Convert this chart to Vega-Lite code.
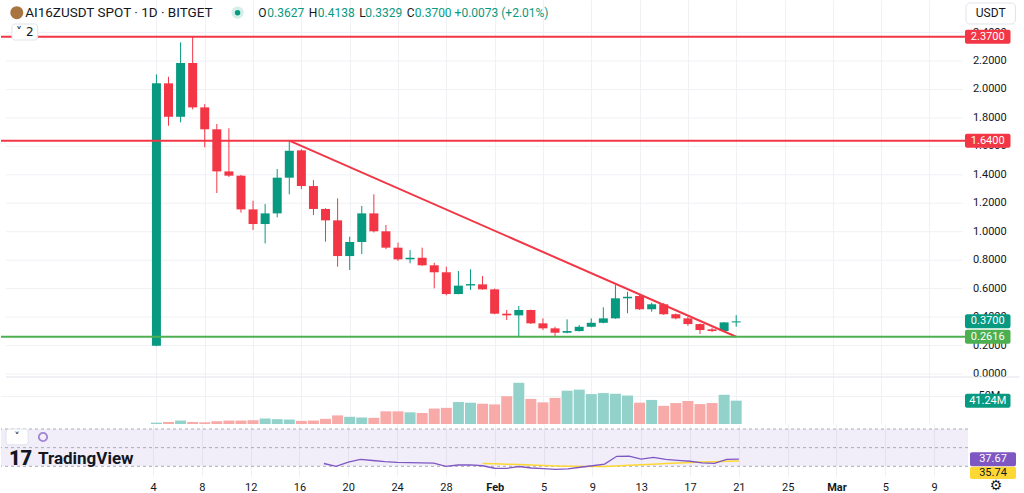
{
  "$schema": "https://vega.github.io/schema/vega-lite/v6.json",
  "padding": 0,
  "background": "#ffffff",
  "spacing": 0,
  "bounds": "flush",
  "config": {
    "view": {"stroke": null},
    "font": "Roboto",
    "axis": {"gridColor": "#eff1f5", "labelFont": "Roboto", "labelColor": "#131722", "labelFontSize": 11, "title": null, "labelOverlap": false, "labelFlush": false}
  },
  "resolve": {"scale": {"x": "independent", "y": "independent"}},
  "datasets": {
    "ohlc": [
      {"date":"2025-01-04","open":0.198,"high":2.106,"low":0.195,"close":2.043,"volume":2400000},
      {"date":"2025-01-05","open":2.043,"high":2.089,"low":1.745,"close":1.808,"volume":3600000},
      {"date":"2025-01-06","open":1.808,"high":2.331,"low":1.769,"close":2.186,"volume":6100000},
      {"date":"2025-01-07","open":2.186,"high":2.37,"low":1.86,"close":1.874,"volume":3600000},
      {"date":"2025-01-08","open":1.874,"high":1.897,"low":1.593,"close":1.72,"volume":3000000},
      {"date":"2025-01-09","open":1.72,"high":1.757,"low":1.272,"close":1.424,"volume":4900000},
      {"date":"2025-01-10","open":1.424,"high":1.727,"low":1.385,"close":1.394,"volume":6100000},
      {"date":"2025-01-11","open":1.394,"high":1.4,"low":1.134,"close":1.157,"volume":6100000},
      {"date":"2025-01-12","open":1.157,"high":1.218,"low":1.012,"close":1.054,"volume":6700000},
      {"date":"2025-01-13","open":1.054,"high":1.195,"low":0.918,"close":1.129,"volume":9700000},
      {"date":"2025-01-14","open":1.129,"high":1.441,"low":1.101,"close":1.38,"volume":8500000},
      {"date":"2025-01-15","open":1.38,"high":1.64,"low":1.263,"close":1.569,"volume":7900000},
      {"date":"2025-01-16","open":1.572,"high":1.58,"low":1.3,"close":1.321,"volume":5500000},
      {"date":"2025-01-17","open":1.321,"high":1.363,"low":1.117,"close":1.16,"volume":6100000},
      {"date":"2025-01-18","open":1.16,"high":1.165,"low":0.93,"close":1.08,"volume":9100000},
      {"date":"2025-01-19","open":1.08,"high":1.235,"low":0.754,"close":0.829,"volume":15200000},
      {"date":"2025-01-20","open":0.829,"high":0.965,"low":0.731,"close":0.928,"volume":12700000},
      {"date":"2025-01-21","open":0.928,"high":1.181,"low":0.843,"close":1.129,"volume":11500000},
      {"date":"2025-01-22","open":1.129,"high":1.263,"low":0.995,"close":1.003,"volume":10900000},
      {"date":"2025-01-23","open":1.003,"high":1.047,"low":0.878,"close":0.888,"volume":22400000},
      {"date":"2025-01-24","open":0.888,"high":0.923,"low":0.795,"close":0.806,"volume":22400000},
      {"date":"2025-01-25","open":0.806,"high":0.871,"low":0.778,"close":0.817,"volume":20600000},
      {"date":"2025-01-26","open":0.817,"high":0.888,"low":0.76,"close":0.764,"volume":19400000},
      {"date":"2025-01-27","open":0.764,"high":0.782,"low":0.602,"close":0.715,"volume":27300000},
      {"date":"2025-01-28","open":0.715,"high":0.754,"low":0.553,"close":0.562,"volume":28500000},
      {"date":"2025-01-29","open":0.562,"high":0.724,"low":0.56,"close":0.621,"volume":38800000},
      {"date":"2025-01-30","open":0.622,"high":0.736,"low":0.59,"close":0.632,"volume":37600000},
      {"date":"2025-01-31","open":0.63,"high":0.689,"low":0.592,"close":0.595,"volume":35800000},
      {"date":"2025-02-01","open":0.595,"high":0.6,"low":0.42,"close":0.424,"volume":34600000},
      {"date":"2025-02-02","open":0.424,"high":0.45,"low":0.379,"close":0.412,"volume":49100000},
      {"date":"2025-02-03","open":0.412,"high":0.478,"low":0.258,"close":0.45,"volume":72800000},
      {"date":"2025-02-04","open":0.45,"high":0.452,"low":0.352,"close":0.356,"volume":44300000},
      {"date":"2025-02-05","open":0.356,"high":0.391,"low":0.309,"close":0.321,"volume":38200000},
      {"date":"2025-02-06","open":0.321,"high":0.332,"low":0.262,"close":0.29,"volume":46100000},
      {"date":"2025-02-07","open":0.29,"high":0.384,"low":0.286,"close":0.302,"volume":58800000},
      {"date":"2025-02-08","open":0.302,"high":0.344,"low":0.298,"close":0.332,"volume":60700000},
      {"date":"2025-02-09","open":0.332,"high":0.391,"low":0.328,"close":0.36,"volume":52800000},
      {"date":"2025-02-10","open":0.36,"high":0.469,"low":0.356,"close":0.391,"volume":54600000},
      {"date":"2025-02-11","open":0.391,"high":0.625,"low":0.388,"close":0.532,"volume":53400000},
      {"date":"2025-02-12","open":0.532,"high":0.578,"low":0.427,"close":0.543,"volume":50300000},
      {"date":"2025-02-13","open":0.548,"high":0.562,"low":0.45,"close":0.455,"volume":37600000},
      {"date":"2025-02-14","open":0.455,"high":0.501,"low":0.438,"close":0.49,"volume":42500000},
      {"date":"2025-02-15","open":0.49,"high":0.5,"low":0.415,"close":0.42,"volume":32100000},
      {"date":"2025-02-16","open":0.42,"high":0.425,"low":0.384,"close":0.391,"volume":37000000},
      {"date":"2025-02-17","open":0.391,"high":0.403,"low":0.339,"close":0.351,"volume":40600000},
      {"date":"2025-02-18","open":0.351,"high":0.355,"low":0.281,"close":0.309,"volume":35200000},
      {"date":"2025-02-19","open":0.314,"high":0.325,"low":0.295,"close":0.302,"volume":37000000},
      {"date":"2025-02-20","open":0.302,"high":0.365,"low":0.3,"close":0.3627,"volume":51600000},
      {"date":"2025-02-21","open":0.3627,"high":0.4138,"low":0.3329,"close":0.37,"volume":41240000}
    ],
    "rsi": [
      {"date":"2025-01-18","rsi":33.0},
      {"date":"2025-01-19","rsi":30.0},
      {"date":"2025-01-20","rsi":34.5},
      {"date":"2025-01-21","rsi":37.5},
      {"date":"2025-01-22","rsi":36.2},
      {"date":"2025-01-23","rsi":35.0},
      {"date":"2025-01-24","rsi":34.3},
      {"date":"2025-01-25","rsi":34.0},
      {"date":"2025-01-26","rsi":33.6},
      {"date":"2025-01-27","rsi":33.4},
      {"date":"2025-01-28","rsi":30.0},
      {"date":"2025-01-29","rsi":31.4},
      {"date":"2025-01-30","rsi":31.6},
      {"date":"2025-01-31","rsi":30.6,"ma":33.0},
      {"date":"2025-02-01","rsi":27.9,"ma":32.7},
      {"date":"2025-02-02","rsi":27.8,"ma":32.3},
      {"date":"2025-02-03","rsi":29.8,"ma":31.8},
      {"date":"2025-02-04","rsi":28.2,"ma":31.4},
      {"date":"2025-02-05","rsi":27.4,"ma":30.9},
      {"date":"2025-02-06","rsi":26.8,"ma":30.4},
      {"date":"2025-02-07","rsi":27.3,"ma":30.0},
      {"date":"2025-02-08","rsi":29.0,"ma":29.7},
      {"date":"2025-02-09","rsi":30.6,"ma":29.7},
      {"date":"2025-02-10","rsi":32.4,"ma":29.9},
      {"date":"2025-02-11","rsi":40.7,"ma":30.4},
      {"date":"2025-02-12","rsi":41.0,"ma":31.0},
      {"date":"2025-02-13","rsi":37.8,"ma":31.6},
      {"date":"2025-02-14","rsi":39.5,"ma":32.2},
      {"date":"2025-02-15","rsi":37.4,"ma":32.9},
      {"date":"2025-02-16","rsi":36.4,"ma":33.5},
      {"date":"2025-02-17","rsi":35.4,"ma":34.0},
      {"date":"2025-02-18","rsi":33.6,"ma":34.5},
      {"date":"2025-02-19","rsi":33.2,"ma":34.9},
      {"date":"2025-02-20","rsi":37.4,"ma":35.3},
      {"date":"2025-02-21","rsi":37.67,"ma":35.74}
    ],
    "trend": [
      {"date":"2025-01-15","price":1.64},
      {"date":"2025-02-21","price":0.2616}
    ],
    "priceticks": [
      {"v":0},{"v":0.2},{"v":0.4},{"v":0.6},{"v":0.8},{"v":1.0},{"v":1.2},{"v":1.4},{"v":1.6},{"v":1.8},{"v":2.0},{"v":2.2},{"v":2.4}
    ],
    "one": [{}]
  },
  "vconcat": [
    {
      "width": 967,
      "height": 377,
      "layer": [
        {
          "data": {"name": "priceticks"},
          "layer": [
            {"mark": {"type": "rule", "color": "#eff1f5", "strokeWidth": 1},
              "encoding": {
                "x": {"datum": 1734872781968, "type": "temporal",
                  "scale": {"type": "utc", "domain": [1734872781968, 1741718238790]},
                  "axis": {"values": [1735948800000,1736294400000,1736640000000,1736985600000,1737331200000,1737676800000,1738022400000,1738368000000,1738713600000,1739059200000,1739404800000,1739750400000,1740096000000,1740441600000,1740787200000,1741132800000,1741478400000], "labels": false, "ticks": false, "domain": false, "grid": true}},
                "x2": {"datum": 1741718238790},
                "y": {"field": "v", "type": "quantitative", "scale": {"domain": [-0.0211, 2.6288], "nice": false, "zero": false}, "axis": null}
              }},
            {"mark": {"type": "text", "color": "#131722", "fontSize": 11, "align": "left", "clip": false},
              "encoding": {
                "x": {"datum": 1741789029450, "type": "temporal"},
                "y": {"field": "v", "type": "quantitative"},
                "text": {"field": "v", "type": "quantitative", "format": ".4f"}
              }}
          ]
        },
        {
          "data": {"name": "ohlc"},
          "layer": [
            {
              "mark": {"type": "rule", "strokeWidth": 1},
              "encoding": {
                "x": {"field": "date", "type": "temporal"},
                "y": {"field": "low", "type": "quantitative"},
                "y2": {"field": "high"},
                "color": {"condition": {"test": "datum.close >= datum.open", "value": "#089981"}, "value": "#f23645"}
              }
            },
            {
              "mark": {"type": "bar", "size": 9},
              "encoding": {
                "x": {"field": "date", "type": "temporal"},
                "y": {"field": "open", "type": "quantitative"},
                "y2": {"field": "close"},
                "color": {"condition": {"test": "datum.close >= datum.open", "value": "#089981"}, "value": "#f23645"}
              }
            }
          ]
        },
        {
          "data": {"name": "trend"},
          "mark": {"type": "line", "color": "#f23645", "strokeWidth": 2},
          "encoding": {
            "x": {"field": "date", "type": "temporal"},
            "y": {"field": "price", "type": "quantitative"}
          }
        },
        {
          "data": {"name": "one"},
          "layer": [
            {"mark": {"type": "rule", "color": "#f23645", "strokeWidth": 2}, "encoding": {"y": {"datum": 2.37, "type": "quantitative"}}},
            {"mark": {"type": "rule", "color": "#f23645", "strokeWidth": 2}, "encoding": {"y": {"datum": 1.64, "type": "quantitative"}}},
            {"mark": {"type": "rule", "color": "#4caf50", "strokeWidth": 2}, "encoding": {"y": {"datum": 0.2616, "type": "quantitative"}}},
            {"mark": {"type": "rule", "color": "#e0e3eb", "strokeWidth": 1, "clip": false}, "encoding": {"x": {"datum": 1734872781968, "type": "temporal"}, "x2": {"datum": 1742121745552}, "y": {"datum": -0.0211, "type": "quantitative"}}},

            {"mark": {"type": "rect", "color": "#f23645", "cornerRadius": 2, "clip": false}, "encoding": {"x": {"datum": 1741732396922, "type": "temporal"}, "x2": {"datum": 1742058033958}, "y": {"datum": 2.4192, "type": "quantitative"}, "y2": {"datum": 2.3208}}},
            {"mark": {"type": "text", "color": "#ffffff", "fontSize": 11, "clip": false}, "encoding": {"x": {"datum": 1741895215440, "type": "temporal"}, "y": {"datum": 2.37, "type": "quantitative"}, "text": {"value": "2.3700"}}},
            {"mark": {"type": "rect", "color": "#f23645", "cornerRadius": 2, "clip": false}, "encoding": {"x": {"datum": 1741732396922, "type": "temporal"}, "x2": {"datum": 1742058033958}, "y": {"datum": 1.6892, "type": "quantitative"}, "y2": {"datum": 1.5908}}},
            {"mark": {"type": "text", "color": "#ffffff", "fontSize": 11, "clip": false}, "encoding": {"x": {"datum": 1741895215440, "type": "temporal"}, "y": {"datum": 1.64, "type": "quantitative"}, "text": {"value": "1.6400"}}},
            {"mark": {"type": "rect", "color": "#089981", "cornerRadius": 2, "clip": false}, "encoding": {"x": {"datum": 1741732396922, "type": "temporal"}, "x2": {"datum": 1742058033958}, "y": {"datum": 0.4192, "type": "quantitative"}, "y2": {"datum": 0.3208}}},
            {"mark": {"type": "text", "color": "#ffffff", "fontSize": 11, "clip": false}, "encoding": {"x": {"datum": 1741895215440, "type": "temporal"}, "y": {"datum": 0.37, "type": "quantitative"}, "text": {"value": "0.3700"}}},
            {"mark": {"type": "rect", "color": "#4caf50", "cornerRadius": 2, "clip": false}, "encoding": {"x": {"datum": 1741732396922, "type": "temporal"}, "x2": {"datum": 1742058033958}, "y": {"datum": 0.3108, "type": "quantitative"}, "y2": {"datum": 0.2124}}},
            {"mark": {"type": "text", "color": "#ffffff", "fontSize": 11, "clip": false}, "encoding": {"x": {"datum": 1741895215440, "type": "temporal"}, "y": {"datum": 0.2616, "type": "quantitative"}, "text": {"value": "0.2616"}}},

            {"mark": {"type": "rect", "fill": "#ffffff", "stroke": "#e0e3eb", "cornerRadius": 4, "clip": false}, "encoding": {"x": {"datum": 1741739475988, "type": "temporal"}, "x2": {"datum": 1742093429288}, "y": {"datum": 2.6077, "type": "quantitative"}, "y2": {"datum": 2.46}}},
            {"mark": {"type": "text", "color": "#131722", "fontSize": 12, "clip": false}, "encoding": {"x": {"datum": 1741916452638, "type": "temporal"}, "y": {"datum": 2.5375, "type": "quantitative"}, "text": {"value": "USDT"}}},

            {"mark": {"type": "rect", "fill": "#ffffff", "stroke": "#e0e3eb", "cornerRadius": 3}, "encoding": {"x": {"datum": 1734915256364, "type": "temporal"}, "x2": {"datum": 1735099312080}, "y": {"datum": 2.4601, "type": "quantitative"}, "y2": {"datum": 2.3476}}},
            {"mark": {"type": "text", "color": "#131722", "fontSize": 12, "font": "DejaVu Sans"}, "encoding": {"x": {"datum": 1735007284222, "type": "temporal"}, "y": {"datum": 2.4004, "type": "quantitative"}, "text": {"value": "˅ 2"}}},

            {"mark": {"type": "point", "filled": true, "color": "#a8743f", "size": 170, "opacity": 1}, "encoding": {"x": {"datum": 1734950000000, "type": "temporal"}, "y": {"datum": 2.5396, "type": "quantitative"}}},
            {"mark": {"type": "text", "color": "#131722", "fontSize": 13.5, "align": "left"}, "encoding": {"x": {"datum": 1735010000000, "type": "temporal"}, "y": {"datum": 2.5396, "type": "quantitative"}, "text": {"value": "AI16ZUSDT SPOT · 1D · BITGET"}}},
            {"mark": {"type": "point", "filled": true, "color": "#d4efe9", "size": 150, "opacity": 1}, "encoding": {"x": {"datum": 1736529283412, "type": "temporal"}, "y": {"datum": 2.5396, "type": "quantitative"}}},
            {"mark": {"type": "point", "filled": true, "color": "#089981", "size": 30, "opacity": 1}, "encoding": {"x": {"datum": 1736529283412, "type": "temporal"}, "y": {"datum": 2.5396, "type": "quantitative"}}},
            {"mark": {"type": "text", "color": "#131722", "fontSize": 12, "align": "left"}, "encoding": {"x": {"datum": 1736677943798, "type": "temporal"}, "y": {"datum": 2.5396, "type": "quantitative"}, "text": {"value": "O"}}},
            {"mark": {"type": "text", "color": "#089981", "fontSize": 12, "align": "left"}, "encoding": {"x": {"datum": 1736741655392, "type": "temporal"}, "y": {"datum": 2.5396, "type": "quantitative"}, "text": {"value": "0.3627"}}},
            {"mark": {"type": "text", "color": "#131722", "fontSize": 12, "align": "left"}, "encoding": {"x": {"datum": 1737038976164, "type": "temporal"}, "y": {"datum": 2.5396, "type": "quantitative"}, "text": {"value": "H"}}},
            {"mark": {"type": "text", "color": "#089981", "fontSize": 12, "align": "left"}, "encoding": {"x": {"datum": 1737102687758, "type": "temporal"}, "y": {"datum": 2.5396, "type": "quantitative"}, "text": {"value": "0.4138"}}},
            {"mark": {"type": "text", "color": "#131722", "fontSize": 12, "align": "left"}, "encoding": {"x": {"datum": 1737400008530, "type": "temporal"}, "y": {"datum": 2.5396, "type": "quantitative"}, "text": {"value": "L"}}},
            {"mark": {"type": "text", "color": "#089981", "fontSize": 12, "align": "left"}, "encoding": {"x": {"datum": 1737442482926, "type": "temporal"}, "y": {"datum": 2.5396, "type": "quantitative"}, "text": {"value": "0.3329"}}},
            {"mark": {"type": "text", "color": "#131722", "fontSize": 12, "align": "left"}, "encoding": {"x": {"datum": 1737738803698, "type": "temporal"}, "y": {"datum": 2.5396, "type": "quantitative"}, "text": {"value": "C"}}},
            {"mark": {"type": "text", "color": "#089981", "fontSize": 12, "align": "left"}, "encoding": {"x": {"datum": 1737796436226, "type": "temporal"}, "y": {"datum": 2.5396, "type": "quantitative"}, "text": {"value": "0.3700 +0.0073 (+2.01%)"}}}
          ]
        }
      ]
    },
    {
      "width": 967,
      "height": 47,
      "layer": [
        {
          "data": {"name": "ohlc"},
          "mark": {"type": "bar", "size": 11},
          "encoding": {
            "x": {"field": "date", "type": "temporal",
              "scale": {"type": "utc", "domain": [1734872781968, 1741718238790]},
              "axis": {"values": [1735948800000,1736294400000,1736640000000,1736985600000,1737331200000,1737676800000,1738022400000,1738368000000,1738713600000,1739059200000,1739404800000,1739750400000,1740096000000,1740441600000,1740787200000,1741132800000,1741478400000], "labels": false, "ticks": false, "domain": false, "grid": true}},
            "y": {"field": "volume", "type": "quantitative",
              "scale": {"domain": [0, 83000000], "nice": false, "zero": false},
              "axis": {"orient": "right", "values": [50000000], "labelExpr": "'50M'", "ticks": false, "domain": false, "grid": true, "labelPadding": 10}},
            "color": {"condition": {"test": "datum.close >= datum.open", "value": "#92d2cb"}, "value": "#f8aaa9"}
          }
        },
        {
          "data": {"name": "one"},
          "layer": [
            {"mark": {"type": "rect", "color": "#089981", "cornerRadius": 2, "clip": false}, "encoding": {"x": {"datum": 1741732396922, "type": "temporal"}, "x2": {"datum": 1742058033958}, "y": {"datum": 53600000, "type": "quantitative"}, "y2": {"datum": 28880000}}},
            {"mark": {"type": "text", "color": "#ffffff", "fontSize": 11, "clip": false}, "encoding": {"x": {"datum": 1741895215440, "type": "temporal"}, "y": {"datum": 41240000, "type": "quantitative"}, "text": {"value": "41.24M"}}}
          ]
        }
      ]
    },
    {
      "width": 967,
      "height": 52,
      "layer": [
        {
          "data": {"name": "one"},
          "layer": [
            {"mark": {"type": "rect", "fill": "#7e57c2", "fillOpacity": 0.1},
              "encoding": {
                "x": {"datum": 1734872781968, "type": "temporal",
                  "scale": {"type": "utc", "domain": [1734872781968, 1741718238790]},
                  "axis": {"values": [1735948800000,1736294400000,1736640000000,1736985600000,1737331200000,1737676800000,1738022400000,1738368000000,1738713600000,1739059200000,1739404800000,1739750400000,1740096000000,1740441600000,1740787200000,1741132800000,1741478400000],
                    "labelExpr": "utcdate(datum.value) == 1 ? utcFormat(datum.value, '%b') : utcFormat(datum.value, '%-d')",
                    "labelFontWeight": {"condition": {"test": "utcdate(datum.value) == 1", "value": "bold"}, "value": "normal"},
                    "labelFontSize": 11, "labelPadding": 5, "ticks": false, "domain": false, "grid": true}},
                "x2": {"datum": 1741718238790},
                "y": {"datum": 30, "type": "quantitative", "scale": {"domain": [19.598, 75.362], "nice": false, "zero": false}, "axis": null},
                "y2": {"datum": 70}
              }},
            {"mark": {"type": "rule", "color": "#a9acb4", "strokeDash": [3, 3]}, "encoding": {"y": {"datum": 70, "type": "quantitative"}}},
            {"mark": {"type": "rule", "color": "#a9acb4", "strokeDash": [3, 3]}, "encoding": {"y": {"datum": 50, "type": "quantitative"}}},
            {"mark": {"type": "rule", "color": "#a9acb4", "strokeDash": [3, 3]}, "encoding": {"y": {"datum": 30, "type": "quantitative"}}}
          ]
        },
        {
          "data": {"name": "rsi"},
          "layer": [
            {"mark": {"type": "line", "color": "#fdd835", "strokeWidth": 1.5}, "encoding": {"x": {"field": "date", "type": "temporal"}, "y": {"field": "ma", "type": "quantitative"}}},
            {"mark": {"type": "line", "color": "#7e57c2", "strokeWidth": 1.3}, "encoding": {"x": {"field": "date", "type": "temporal"}, "y": {"field": "rsi", "type": "quantitative"}}}
          ]
        },
        {
          "data": {"name": "one"},
          "layer": [
            {"mark": {"type": "rect", "color": "#7e57c2", "cornerRadius": 2, "clip": false}, "encoding": {"x": {"datum": 1741732396922, "type": "temporal"}, "x2": {"datum": 1742058033958}, "y": {"datum": 45.17, "type": "quantitative"}, "y2": {"datum": 30.17}}},
            {"mark": {"type": "text", "color": "#ffffff", "fontSize": 11, "clip": false}, "encoding": {"x": {"datum": 1741895215440, "type": "temporal"}, "y": {"datum": 37.67, "type": "quantitative"}, "text": {"value": "37.67"}}},
            {"mark": {"type": "rect", "color": "#fdd835", "cornerRadius": 2, "clip": false}, "encoding": {"x": {"datum": 1741732396922, "type": "temporal"}, "x2": {"datum": 1742058033958}, "y": {"datum": 29.6, "type": "quantitative"}, "y2": {"datum": 16.4}}},
            {"mark": {"type": "text", "color": "#131722", "fontSize": 11, "clip": false}, "encoding": {"x": {"datum": 1741895215440, "type": "temporal"}, "y": {"datum": 22.5, "type": "quantitative"}, "text": {"value": "35.74"}}},

            {"mark": {"type": "rect", "fill": "#ffffff", "stroke": "#e0e3eb", "cornerRadius": 3}, "encoding": {"x": {"datum": 1734908177298, "type": "temporal"}, "x2": {"datum": 1735064991146}, "y": {"datum": 69.9, "type": "quantitative"}, "y2": {"datum": 53.0}}},
            {"mark": {"type": "text", "color": "#131722", "fontSize": 11, "font": "DejaVu Sans"}, "encoding": {"x": {"datum": 1734986047024, "type": "temporal"}, "y": {"datum": 61.4, "type": "quantitative"}, "text": {"value": "˅"}}},
            {"mark": {"type": "point", "filled": false, "color": "#7e57c2", "size": 70, "strokeWidth": 1.8}, "encoding": {"x": {"datum": 1735170102740, "type": "temporal"}, "y": {"datum": 61.4, "type": "quantitative"}}},

            {"mark": {"type": "text", "color": "#131722", "fontSize": 20, "fontWeight": 900, "align": "left"}, "encoding": {"x": {"datum": 1734929414496, "type": "temporal"}, "y": {"datum": 38.0, "type": "quantitative"}, "text": {"value": "17"}}},
            {"mark": {"type": "text", "color": "#131722", "fontSize": 17, "fontWeight": "bold", "align": "left"}, "encoding": {"x": {"datum": 1735134707410, "type": "temporal"}, "y": {"datum": 38.0, "type": "quantitative"}, "text": {"value": "TradingView"}}},

            {"mark": {"type": "text", "color": "#131722", "fontSize": 14, "font": "DejaVu Sans", "clip": false}, "encoding": {"x": {"datum": 1741916452638, "type": "temporal"}, "y": {"datum": 8.87, "type": "quantitative"}, "text": {"value": "⚙"}}}
          ]
        }
      ]
    }
  ]
}
